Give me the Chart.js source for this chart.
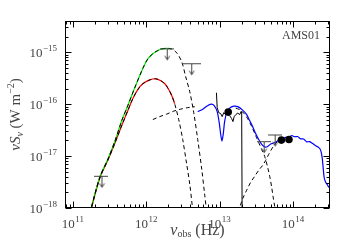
<!DOCTYPE html>
<html><head><meta charset="utf-8">
<script src="https://cdn.jsdelivr.net/npm/chart.js@4.4.0/dist/chart.umd.min.js"></script>
<style>html,body{margin:0;padding:0;background:#fff}canvas{display:block}</style>
</head><body>
<canvas id="c" width="350" height="250" style="width:350px;height:250px"></canvas>
<script>
// ---------- data (Hz, W m^-2) ----------
const xTickValues = [1e11, 1e12, 1e13, 1e14];
const xTickExp = ['11', '12', '13', '14'];
const yTickValues = [1e-18, 1e-17, 1e-16, 1e-15];
const yTickExp = ['\u221218', '\u221217', '\u221216', '\u221215'];

// total cold-dust model (green)
const greenNu = [1.70e11, 2.32e11, 2.99e11, 3.72e11, 4.63e11, 5.60e11, 6.97e11, 9.04e11, 1.05e12, 1.24e12, 1.44e12, 1.63e12, 1.88e12, 2.20e12];
const greenF  = [7.98e-19, 3.91e-18, 8.65e-18, 1.91e-17, 4.8e-17, 9.35e-17, 2.07e-16, 5.00e-16, 7.44e-16, 9.48e-16, 1.08e-15, 1.16e-15, 1.19e-15, 1.16e-15];

// cold component (dashed, follows green)
const coldNu = [1.70e11, 2.32e11, 2.99e11, 3.72e11, 4.63e11, 5.60e11, 6.97e11, 9.04e11, 1.05e12, 1.24e12, 1.44e12, 1.63e12, 1.88e12, 2.20e12, 2.61e12, 3.05e12, 3.45e12, 3.92e12, 4.44e12, 5.03e12, 5.71e12, 6.27e12, 6.67e12];
const coldF  = [7.98e-19, 3.91e-18, 8.65e-18, 1.91e-17, 4.8e-17, 9.35e-17, 2.07e-16, 5.00e-16, 7.44e-16, 9.48e-16, 1.08e-15, 1.16e-15, 1.19e-15, 1.16e-15, 9.70e-16, 6.52e-16, 3.37e-16, 1.73e-16, 6.87e-17, 2.09e-17, 5.56e-18, 1.77e-18, 8.34e-19];

// red model
const redNu = [1.70e11, 2.32e11, 2.99e11, 3.72e11, 4.63e11, 5.60e11, 6.55e11, 7.66e11, 8.96e11, 1.12e12, 1.35e12, 1.58e12, 1.79e12, 1.96e12, 2.23e12, 2.44e12];
const redF  = [7.64e-19, 3.74e-18, 8.28e-18, 1.75e-17, 3.87e-17, 7.50e-17, 1.27e-16, 1.90e-16, 2.47e-16, 2.94e-16, 3.08e-16, 2.82e-16, 2.47e-16, 2.07e-16, 1.46e-16, 1.02e-16];

// second cold component (dashed, follows red)
const cool2Nu = [1.70e11, 2.32e11, 2.99e11, 3.72e11, 4.63e11, 5.60e11, 6.55e11, 7.66e11, 8.96e11, 1.12e12, 1.35e12, 1.58e12, 1.79e12, 1.96e12, 2.23e12, 2.44e12, 2.77e12, 3.14e12, 3.56e12, 3.92e12, 4.24e12, 4.44e12];
const cool2F  = [7.64e-19, 3.74e-18, 8.28e-18, 1.75e-17, 3.87e-17, 7.50e-17, 1.27e-16, 1.90e-16, 2.47e-16, 2.94e-16, 3.08e-16, 2.82e-16, 2.47e-16, 2.07e-16, 1.46e-16, 1.02e-16, 5.05e-17, 2.09e-17, 6.93e-18, 2.87e-18, 1.09e-18, 6.12e-19];

// warm component (dashed)
const warmNu = [1.23e12, 1.53e12, 1.90e12, 2.37e12, 2.95e12, 3.67e12, 4.58e12];
const warmF  = [5.05e-17, 5.77e-17, 6.43e-17, 7.34e-17, 8.02e-17, 8.57e-17, 8.95e-17];

// hot / torus component (dashed)
const torusNu = [1.66e13, 1.88e13, 2.13e13, 2.41e13, 2.74e13, 3.10e13, 3.41e13, 3.75e13, 4.12e13, 4.52e13, 4.82e13, 5.13e13, 5.37e13, 5.63e13, 5.81e13];
const torusF  = [8.38e-17, 7.85e-17, 6.73e-17, 5.27e-17, 3.71e-17, 2.49e-17, 1.83e-17, 1.34e-17, 9.87e-18, 6.07e-18, 4.08e-18, 2.51e-18, 1.62e-18, 1.09e-18, 7.98e-19];

// stellar component (dashed)
const starNu = [1.79e13, 2.08e13, 2.34e13, 2.65e13, 3.01e13, 3.41e13, 3.87e13, 4.25e13, 4.67e13, 5.13e13, 5.63e13, 6.19e13, 6.80e13];
const starF  = [8.34e-19, 1.55e-18, 2.20e-18, 3.13e-18, 4.08e-18, 5.32e-18, 6.64e-18, 8.28e-18, 1.08e-17, 1.37e-17, 1.68e-17, 1.91e-17, 2.09e-17];

// total model (blue)
const blueNu = [5.03e12, 5.89e12, 6.67e12, 7.69e12, 8.44e12, 9.27e12, 9.88e12, 1.035e13, 1.075e13, 1.12e13, 1.17e13, 1.25e13, 1.37e13, 1.56e13, 1.77e13, 2.06e13, 2.34e13, 2.57e13, 2.82e13, 3.10e13, 3.41e13, 3.75e13, 4.12e13, 4.52e13, 4.97e13, 5.46e13, 6.00e13, 6.59e13, 7.24e13, 7.95e13, 8.74e13, 9.60e13, 1.055e14, 1.16e14, 1.27e14, 1.40e14, 1.54e14, 1.69e14, 1.86e14, 2.04e14, 2.24e14, 2.39e14, 2.50e14, 2.58e14, 2.66e14, 2.79e14, 2.92e14, 3.02e14, 3.17e14];
const blueF  = [7.18e-17, 8.02e-17, 9.16e-17, 1.00e-16, 9.36e-17, 7.18e-17, 4.42e-17, 2.61e-17, 1.95e-17, 2.61e-17, 4.62e-17, 6.87e-17, 8.38e-17, 9.16e-17, 8.96e-17, 7.67e-17, 6.29e-17, 4.83e-17, 3.71e-17, 2.72e-17, 2.09e-17, 1.68e-17, 1.50e-17, 1.53e-17, 1.71e-17, 1.79e-17, 1.91e-17, 2.09e-17, 2.18e-17, 2.30e-17, 2.26e-17, 2.49e-17, 2.36e-17, 2.38e-17, 2.15e-17, 2.14e-17, 1.88e-17, 1.90e-17, 1.74e-17, 1.58e-17, 1.47e-17, 1.29e-17, 9.44e-18, 6.07e-18, 3.91e-18, 3.13e-18, 2.87e-18, 2.63e-18, 2.41e-18];

// mid-IR spectrum (black)
const specNu = [9.05e12, 9.27e12, 9.72e12, 1.035e13, 1.085e13, 1.14e13, 1.21e13, 1.29e13, 1.37e13, 1.46e13, 1.52e13, 1.58e13, 1.66e13, 1.77e13, 1.88e13, 1.96e13, 2.00e13, 2.03e13];
const specF  = [1.66e-16, 8.57e-17, 6.87e-17, 6.58e-17, 5.76e-17, 6.87e-17, 6.29e-17, 7.18e-17, 6.02e-17, 5.27e-17, 4.62e-17, 5.76e-17, 6.29e-17, 6.73e-17, 6.29e-17, 7.18e-17, 6.87e-17, 5e-19];

// photometric detections
const detNu = [1.31e13, 6.95e13, 8.82e13];
const detF  = [7.03e-17, 2.03e-17, 2.09e-17];

// upper limits
const limNu = [2.45e11, 1.90e12, 4.17e12, 3.99e13, 5.63e13];
const limF  = [4.18e-18, 1.19e-15, 6.15e-16, 1.94e-17, 2.61e-17];

// ---------- helpers ----------
const pts = (xs, ys) => xs.map((v, i) => ({x: v, y: ys[i]}));
function lineDs(label, xs, ys, color, dash, width, tension) {
  return {label, data: pts(xs, ys), showLine: true, borderColor: color, borderWidth: width,
    borderDash: dash, pointRadius: 0, pointHoverRadius: 0, fill: false, tension: tension};
}
function makeLimit(w) {
  const c = document.createElement('canvas');
  const h = 26; c.width = w; c.height = h;
  const g = c.getContext('2d');
  g.strokeStyle = '#444'; g.lineWidth = 1;
  const cx = Math.floor(w / 2) + 0.5, cy = 13.5;
  g.beginPath();
  g.moveTo(0, cy); g.lineTo(w, cy);
  g.moveTo(cx, cy); g.lineTo(cx, cy + 11);
  g.moveTo(cx - 2.5, cy + 7); g.lineTo(cx, cy + 11); g.lineTo(cx + 2.5, cy + 7);
  g.stroke();
  return c;
}
const limSmall = makeLimit(14), limWide = makeLimit(19);

const SERIF = '"Liberation Serif", "Times New Roman", serif';
const TXT = '#444';

function drawPow(ctx, cx, cy, base, exp, align) {
  ctx.font = '13px ' + SERIF; const wb = ctx.measureText(base).width;
  ctx.font = '9px ' + SERIF; const we = ctx.measureText(exp).width;
  const total = wb + we + 0.5;
  const left = align === 'center' ? cx - total / 2 : cx - total;
  ctx.textAlign = 'left'; ctx.textBaseline = 'alphabetic';
  ctx.font = '13px ' + SERIF; ctx.fillText(base, left, cy + 4.5);
  ctx.font = '9px ' + SERIF; ctx.fillText(exp, left + wb + 0.5, cy - 1.5);
}
function drawRich(ctx, parts, x, y, align) {
  let total = 0;
  parts.forEach(p => { ctx.font = p.f; p.w = ctx.measureText(p.t).width; total += p.w; });
  let cx = align === 'center' ? x - total / 2 : x;
  ctx.textAlign = 'left'; ctx.textBaseline = 'alphabetic';
  parts.forEach(p => { ctx.font = p.f; ctx.fillText(p.t, cx, y + (p.dy || 0)); cx += p.w; });
}

const decor = {
  id: 'decor',
  afterDraw(chart) {
    const {ctx, chartArea: a, scales: {x, y}} = chart;
    ctx.save();
    const L = Math.round(a.left) + 0.5, R = Math.round(a.right) - 0.5;
    const T = Math.round(a.top) + 0.5, B = Math.round(a.bottom) - 0.5;
    ctx.strokeStyle = '#000'; ctx.lineWidth = 1;
    ctx.strokeRect(L, T, R - L, B - T);
    ctx.beginPath();
    for (let d = 10; d <= 15; d++) for (let k = 1; k <= 9; k++) {
      const v = k * Math.pow(10, d);
      if (v < x.min || v > x.max) continue;
      const px = Math.round(x.getPixelForValue(v)) + 0.5;
      const len = k === 1 ? 6 : 3;
      ctx.moveTo(px, B); ctx.lineTo(px, B - len);
      ctx.moveTo(px, T); ctx.lineTo(px, T + len);
    }
    for (let d = -19; d <= -14; d++) for (let k = 1; k <= 9; k++) {
      const v = k * Math.pow(10, d);
      if (v < y.min || v > y.max) continue;
      const py = Math.round(y.getPixelForValue(v)) + 0.5;
      const len = k === 1 ? 6 : 3;
      ctx.moveTo(L, py); ctx.lineTo(L + len, py);
      ctx.moveTo(R, py); ctx.lineTo(R - len, py);
    }
    ctx.stroke();
    ctx.fillStyle = TXT;
    xTickValues.forEach((v, i) => drawPow(ctx, x.getPixelForValue(v), a.bottom + 15, '10', xTickExp[i], 'center'));
    yTickValues.forEach((v, i) => drawPow(ctx, a.left - 8, y.getPixelForValue(v), '10', yTickExp[i], 'right'));
    drawRich(ctx, [
      {t: '\u03bd', f: 'italic 16px ' + SERIF},
      {t: 'obs', f: '10px ' + SERIF, dy: 2},
      {t: ' (Hz)', f: '16px ' + SERIF}
    ], (a.left + a.right) / 2, 235, 'center');
    ctx.save();
    ctx.translate(19.5, (a.top + a.bottom) / 2);
    ctx.rotate(-Math.PI / 2);
    drawRich(ctx, [
      {t: '\u03bd', f: 'italic 15px ' + SERIF},
      {t: 'S', f: 'italic 15px ' + SERIF},
      {t: '\u03bd', f: 'italic 10px ' + SERIF, dy: 3},
      {t: ' (W m', f: '15px ' + SERIF},
      {t: '\u22122', f: '10px ' + SERIF, dy: -6},
      {t: ')', f: '15px ' + SERIF}
    ], 0, 0, 'center');
    ctx.restore();
    ctx.font = '12px ' + SERIF; ctx.textAlign = 'right'; ctx.textBaseline = 'alphabetic';
    ctx.fillText('AMS01', a.right - 10, 38.5);
    ctx.restore();
  }
};

new Chart(document.getElementById('c'), {
  type: 'scatter',
  data: {
    datasets: [
      {label: 'detections', data: pts(detNu, detF), pointRadius: 3.8, pointHoverRadius: 3.8,
        backgroundColor: '#000', borderColor: '#000', borderWidth: 0, showLine: false},
      {label: 'upper limits', data: pts(limNu, limF), pointRadius: 5, showLine: false,
        pointStyle: (c) => c.dataIndex === 2 ? limWide : limSmall},
      lineDs('spectrum', specNu, specF, '#000', [], 1, 0),
      lineDs('total', blueNu, blueF, '#0000ff', [], 1.2, 0.2),
      lineDs('torus', torusNu, torusF, '#000', [4, 3], 1, 0.3),
      lineDs('stars', starNu, starF, '#000', [4, 3], 1, 0.3),
      lineDs('warm', warmNu, warmF, '#000', [4, 3], 1, 0.3),
      lineDs('cold', coldNu, coldF, '#000', [4, 3], 1, 0.3),
      lineDs('cold2', cool2Nu, cool2F, '#000', [4, 3], 1, 0.3),
      lineDs('green', greenNu, greenF, '#00ee00', [], 1.2, 0.3),
      lineDs('red', redNu, redF, '#ff0000', [], 1.2, 0.3)
    ]
  },
  options: {
    responsive: false, animation: false, devicePixelRatio: 1,
    layout: {padding: {top: 21, right: 20, left: 0, bottom: 0}},
    plugins: {legend: {display: false}, tooltip: {enabled: false}},
    events: [],
    scales: {
      x: {type: 'logarithmic', position: 'bottom', min: 7.8e10, max: 3.2e14,
        grid: {display: false}, border: {display: false}, ticks: {display: false},
        afterBuildTicks: (s) => { s.ticks = xTickValues.map(v => ({value: v})); },
        afterFit: (s) => { s.height = 42; }},
      y: {type: 'logarithmic', position: 'left', min: 1e-18, max: 4e-15,
        grid: {display: false}, border: {display: false}, ticks: {display: false},
        afterBuildTicks: (s) => { s.ticks = yTickValues.map(v => ({value: v})); },
        afterFit: (s) => { s.width = 65; }}
    }
  },
  plugins: [decor]
});
</script>
</body></html>
